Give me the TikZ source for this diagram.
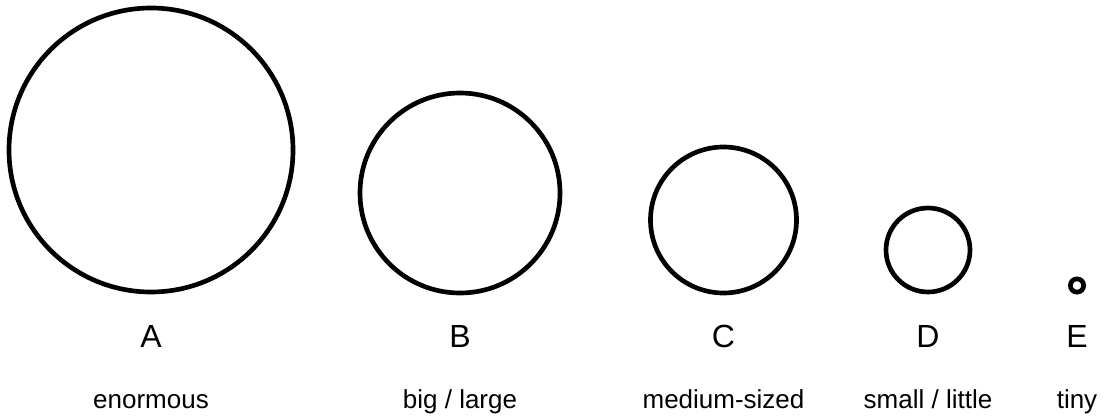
\documentclass[tikz,border=0pt]{standalone}
\usepackage{fontspec}
\setmainfont{Liberation Sans}
\usetikzlibrary{positioning}
\tikzset{
  ring/.style={circle, draw, line width=3.5pt, inner sep=0pt},
  letter/.style={font=\fontsize{24}{28}\selectfont, anchor=base, inner sep=0pt},
  word/.style={font=\fontsize{19.5}{23}\selectfont, anchor=base, inner sep=0pt}
}
\begin{document}
\begin{tikzpicture}[x=0.75pt, y=-0.75pt]
\useasboundingbox (0,0) rectangle (1110,417);
% ---------- circles, bottoms aligned ----------
\node[ring, minimum size=213pt] (cA) at (151,150) {};
\node[ring, minimum size=150pt] (cB) at (460,193) {};
\node[ring, minimum size=109.5pt] (cC) at (723.5,220) {};
\node[ring, minimum size=63pt] (cD) at (928,250) {};
\node[ring, minimum size=10pt] (cE) at (1077,285.5) {};
% ---------- letters ----------
\node[letter] (lA) at (151,347) {A};
\node[letter] (lB) at (460,347) {B};
\node[letter] (lC) at (723.5,347) {C};
\node[letter] (lD) at (928,347) {D};
\node[letter] (lE) at (1077,347) {E};
% ---------- words ----------
\node[word] (wA) at (151,408) {enormous};
\node[word] (wB) at (460,408) {big / large};
\node[word] (wC) at (723.5,408) {medium-sized};
\node[word] (wD) at (928,408) {small / little};
\node[word] (wE) at (1077,408) {tiny};
\end{tikzpicture}
\end{document}
